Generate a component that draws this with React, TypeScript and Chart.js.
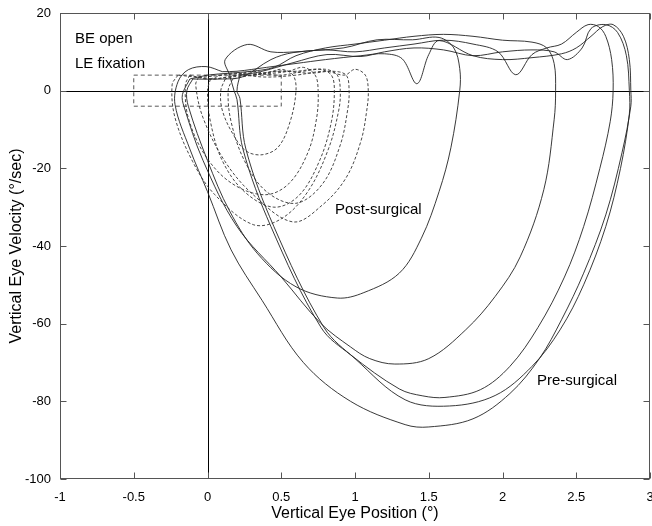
import { useEffect, useRef } from 'react';
import { Chart, registerables } from 'chart.js';
Chart.register(...registerables);

const xTickValues = [-1, -0.5, 0, 0.5, 1, 1.5, 2, 2.5, 3];
const yTickValues = [20, 0, -20, -40, -60, -80, -100];

const xTitle = 'Vertical Eye Position (°)';
const yTitle = 'Vertical Eye Velocity (°/sec)';
const noteLines = ['BE open', 'LE fixation'];
const postLabel = 'Post-surgical';
const preLabel = 'Pre-surgical';

// Pre-surgical (solid) loops: [position, velocity]
const preA = [[-0.1,3],[-0.14,0],[-0.13,-4],[0.0,-18],[0.15,-31],[0.34,-42],[0.6,-50.5],[0.88,-53.4],[1.06,-52],[1.3,-47],[1.45,-38],[1.57,-26],[1.65,-14.7],[1.71,0],[1.71,5.7],[1.67,11],[1.57,13.7],[1.39,13.1],[1.15,13.1],[0.92,11],[0.58,9.8],[0.43,8],[0.24,3.6],[0.1,3],[-0.1,3]];
const preB = [[-0.12,3],[-0.17,-1],[-0.16,-4],[-0.03,-18],[0.2,-35],[0.5,-48],[0.77,-60],[0.97,-66],[1.1,-69],[1.27,-70.4],[1.5,-69],[1.75,-61.6],[1.95,-53],[2.12,-42.8],[2.28,-25.5],[2.35,-7.5],[2.36,0],[2.35,7],[2.3,11],[2.2,12.5],[2.0,13],[1.8,14],[1.6,14.5],[1.4,14],[1.2,13],[1.0,12],[0.8,11],[0.6,9],[0.45,6],[0.3,5],[0.15,4.5],[0,4],[-0.12,3]];
const preC = [[0.15,4],[0.18,0],[0.2,-2.3],[0.24,-15],[0.43,-35],[0.77,-61],[0.97,-68],[1.3,-76.8],[1.46,-78.6],[1.61,-79],[1.85,-77],[2.05,-71],[2.24,-61],[2.42,-48],[2.55,-35],[2.66,-20],[2.73,-8],[2.75,0],[2.74,8],[2.7,14],[2.65,16.5],[2.58,17],[2.5,15],[2.4,12],[2.3,11],[2.2,9.3],[2.09,4.1],[1.97,10],[1.8,12],[1.6,13],[1.4,12],[1.2,11],[1.0,10],[0.8,10.5],[0.6,10],[0.43,10],[0.27,11.9],[0.12,8],[0.15,4]];
const preD = [[0.22,4],[0.2,0],[0.22,-2],[0.26,-15],[0.45,-35],[0.79,-61],[1.0,-69],[1.34,-79.6],[1.64,-81.2],[1.95,-78.5],[2.2,-71],[2.39,-61.6],[2.55,-50],[2.7,-35],[2.8,-20],[2.86,-6],[2.86,0],[2.84,9],[2.78,15],[2.7,17],[2.6,16],[2.54,11],[2.44,8],[2.35,10],[2.2,10.5],[2.0,10],[1.8,9],[1.6,10.5],[1.4,11],[1.2,10],[1.04,8.8],[0.81,9.3],[0.58,7.2],[0.36,4.9],[0.22,4]];
const preE = [[0.1,4.9],[-0.01,6.2],[-0.13,5.4],[-0.2,2.3],[-0.22,-3.6],[-0.12,-15],[0,-26],[0.16,-41],[0.37,-54],[0.65,-70],[0.97,-80],[1.34,-86],[1.5,-86.6],[1.8,-84.5],[2.05,-78],[2.25,-69],[2.4,-59],[2.55,-47],[2.7,-32],[2.81,-16],[2.87,-4],[2.87,0],[2.86,8],[2.82,14],[2.75,17],[2.68,16.5],[2.6,14],[2.5,11],[2.4,9.5],[2.2,8.5],[2.0,8],[1.8,9],[1.57,12.9],[1.5,9.3],[1.42,1.8],[1.32,8.2],[1.2,9.5],[1.04,9],[0.8,8],[0.6,7],[0.4,6],[0.2,5],[0.1,4.9]];

// Post-surgical (dashed) loops
const postA = [[0.12,3],[0.09,0],[0.1,-5],[0.17,-11],[0.26,-15.5],[0.37,-16.5],[0.48,-14.5],[0.56,-8],[0.6,0],[0.58,4],[0.5,5.5],[0.4,4.5],[0.3,5],[0.2,4],[0.12,3]];
const postB = [[-0.12,4],[-0.15,1.5],[-0.13,-7],[-0.01,-17],[0.17,-24],[0.39,-26.8],[0.55,-24],[0.68,-16],[0.74,-7],[0.75,0],[0.73,4],[0.65,6],[0.55,5],[0.45,4.5],[0.3,4],[0.15,3.5],[0,3],[-0.12,4]];
const postC = [[0.02,3],[0.0,0],[0.02,-8],[0.1,-18],[0.25,-26],[0.45,-30],[0.62,-27],[0.76,-18],[0.84,-8],[0.86,0],[0.84,4],[0.76,5.5],[0.6,5],[0.45,5],[0.3,4],[0.15,4.5],[0.02,3]];
const postD = [[-0.2,4],[-0.24,1.5],[-0.22,-7],[-0.1,-18.3],[0.05,-26.8],[0.31,-34.5],[0.5,-33],[0.68,-26],[0.82,-15],[0.89,-5],[0.9,0],[0.88,4],[0.8,5.5],[0.65,5],[0.5,4],[0.3,4.5],[0.1,4],[-0.05,3.5],[-0.2,4]];
const postE = [[-0.06,3.5],[-0.08,1.5],[-0.03,-7],[0.12,-18.3],[0.31,-26.8],[0.58,-33.8],[0.78,-29.4],[0.94,-22.4],[1.04,-13],[1.08,-5],[1.09,0],[1.07,4],[1.0,5.5],[0.93,4],[0.8,5],[0.6,4],[0.4,3.5],[0.2,4],[0.05,3],[-0.06,3.5]];
const postF = [[0.17,3],[0.14,0],[0.16,-8],[0.25,-18],[0.4,-26],[0.6,-29],[0.78,-24],[0.9,-14],[0.95,-5],[0.96,0],[0.94,4],[0.85,5],[0.7,4.5],[0.5,5],[0.3,4],[0.17,3]];

const fixationBox = [[-0.5,4],[0.5,4],[0.5,-4],[-0.5,-4],[-0.5,4]];

const preLoops = [preA, preB, preC, preD, preE];
const postLoops = [postA, postB, postC, postD, postE, postF];

const FONT = '"Liberation Sans", Arial, sans-serif';

const framePlugin = {
  id: 'frame',
  beforeDatasetsDraw(chart: any) {
    const { ctx, chartArea: a, scales } = chart;
    const xs = scales.x, ys = scales.y;
    ctx.save();
    ctx.strokeStyle = '#000';
    ctx.lineWidth = 1;
    const x0 = Math.round(xs.getPixelForValue(0)) + 0.5;
    const y0 = Math.round(ys.getPixelForValue(0)) + 0.5;
    ctx.beginPath();
    ctx.moveTo(x0, a.top); ctx.lineTo(x0, a.bottom);
    ctx.moveTo(a.left, y0); ctx.lineTo(a.right, y0);
    ctx.stroke();
    ctx.restore();
  },
  afterDraw(chart: any) {
    const { ctx, chartArea: a, scales } = chart;
    const xs = scales.x, ys = scales.y;
    ctx.save();
    ctx.strokeStyle = '#555';
    ctx.lineWidth = 1;
    const L = Math.round(a.left) + 0.5, R = Math.round(a.right) - 0.5;
    const T = Math.round(a.top) + 0.5, B = Math.round(a.bottom) - 0.5;
    ctx.strokeRect(L, T, R - L, B - T);
    const tl = 6;
    ctx.beginPath();
    xTickValues.forEach((v) => {
      const px = Math.round(xs.getPixelForValue(v)) + 0.5;
      ctx.moveTo(px, B); ctx.lineTo(px, B - tl);
      ctx.moveTo(px, T); ctx.lineTo(px, T + tl);
    });
    yTickValues.forEach((v) => {
      const py = Math.round(ys.getPixelForValue(v)) + 0.5;
      ctx.moveTo(L, py); ctx.lineTo(L + tl, py);
      ctx.moveTo(R, py); ctx.lineTo(R - tl, py);
    });
    ctx.stroke();

    ctx.fillStyle = '#000';
    ctx.font = `15px ${FONT}`;
    ctx.textBaseline = 'alphabetic';
    ctx.textAlign = 'left';
    ctx.fillText(noteLines[0], 75, 43);
    ctx.fillText(noteLines[1], 75, 68);
    ctx.fillText(postLabel, 335, 214);
    ctx.fillText(preLabel, 537, 385);

    ctx.font = `16px ${FONT}`;
    ctx.textAlign = 'center';
    ctx.textBaseline = 'middle';
    ctx.fillText(xTitle, (a.left + a.right) / 2, 514);
    ctx.translate(17, (a.top + a.bottom) / 2);
    ctx.rotate(-Math.PI / 2);
    ctx.fillText(yTitle, 0, 0);
    ctx.restore();
  },
};

export default function App() {
  const ref = useRef<HTMLCanvasElement | null>(null);
  useEffect(() => {
    if (!ref.current) return;
    const toPts = (arr: number[][]) => arr.map(([x, y]) => ({ x, y }));
    const datasets: any[] = [];
    postLoops.forEach((loop) => {
      datasets.push({
        data: toPts(loop), showLine: true, pointRadius: 0, borderColor: '#333',
        borderWidth: 0.9, borderDash: [3, 2], tension: 0.35, fill: false,
      });
    });
    preLoops.forEach((loop) => {
      datasets.push({
        data: toPts(loop), showLine: true, pointRadius: 0, borderColor: '#222',
        borderWidth: 0.9, tension: 0.35, fill: false,
      });
    });
    datasets.push({
      data: toPts(fixationBox), showLine: true, pointRadius: 0, borderColor: '#444',
      borderWidth: 0.9, borderDash: [4, 3], tension: 0, fill: false,
    });
    const chart = new Chart(ref.current, {
      type: 'scatter',
      data: { datasets },
      plugins: [framePlugin],
      options: {
        responsive: false,
        animation: false,
        events: [],
        layout: { padding: { top: 13, right: 2, left: 0, bottom: 0 } },
        plugins: { legend: { display: false }, tooltip: { enabled: false } },
        scales: {
          x: {
            type: 'linear', min: -1, max: 3,
            afterFit: (s: any) => { s.height = 47; s.paddingLeft = 0; s.paddingRight = 0; },
            grid: { display: false, drawTicks: false },
            border: { display: false },
            ticks: {
              stepSize: 0.5, padding: 11, color: '#000', maxRotation: 0, autoSkip: false,
              font: { family: FONT, size: 13 },
              callback: (v: any) => String(v),
            },
          },
          y: {
            type: 'linear', min: -100, max: 20,
            afterFit: (s: any) => { s.width = 60; s.paddingTop = 0; s.paddingBottom = 0; },
            grid: { display: false, drawTicks: false },
            border: { display: false },
            ticks: {
              stepSize: 20, padding: 9, color: '#000',
              font: { family: FONT, size: 13 },
              callback: (v: any) => String(v),
            },
          },
        },
      },
    });
    return () => chart.destroy();
  }, []);
  return (
    <div style={{ position: 'absolute', left: 0, top: 0, width: 652, height: 526, background: '#fff' }}>
      <canvas ref={ref} width={652} height={526} style={{ width: 652, height: 526, display: 'block' }} />
    </div>
  );
}
